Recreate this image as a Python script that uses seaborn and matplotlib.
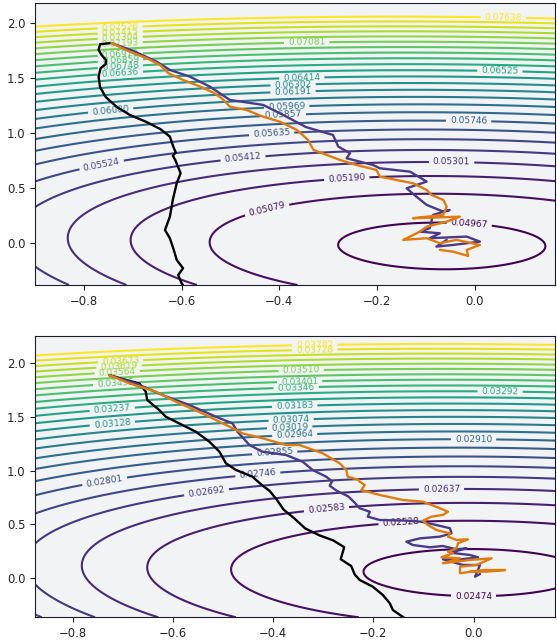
import matplotlib
matplotlib.use("Agg")
import matplotlib.pyplot as plt
import numpy as np
import seaborn as sns

# contour levels (as printed on the labels)
levels_top = [0.04967, 0.05079, 0.05190, 0.05301, 0.05412, 0.05524, 0.05635, 0.05746,
              0.05857, 0.05969, 0.06080, 0.06191, 0.06302, 0.06414, 0.06525, 0.06636,
              0.06748, 0.06859, 0.06970, 0.07081, 0.07193, 0.07304, 0.07415, 0.07526, 0.07638]
levels_bottom = [0.02474, 0.02528, 0.02583, 0.02637, 0.02692, 0.02746, 0.02801, 0.02855,
                 0.02910, 0.02964, 0.03019, 0.03074, 0.03128, 0.03183, 0.03237, 0.03292,
                 0.03346, 0.03401, 0.03455, 0.03510, 0.03564, 0.03619, 0.03673, 0.03728, 0.03782]

# loss surface shape: centre, tilt, bend of the bowl, spacing of levels in bowl units
centre_top = (-0.067, -0.03)
centre_bottom = (0.0, 0.05)
tilt_top, bend_top = 0.06, -0.168
tilt_bottom, bend_bottom = 0.044, -0.159
q_step_top, q_off_top = 0.18, 0.25
q_step_bottom, q_off_bottom = 0.185, 0.26

# trajectories, top panel
top_black_x = [-0.747, -0.767, -0.770, -0.764, -0.755, -0.755, -0.766, -0.770, -0.767, -0.755,
               -0.732, -0.706, -0.671, -0.643, -0.624, -0.617, -0.612, -0.618, -0.613, -0.602,
               -0.610, -0.618, -0.624, -0.634, -0.624, -0.616, -0.610, -0.597, -0.607, -0.600, -0.595]
top_black_y = [1.813, 1.804, 1.752, 1.706, 1.661, 1.625, 1.585, 1.509, 1.413, 1.322,
               1.231, 1.161, 1.095, 1.031, 0.964, 0.873, 0.82, 0.79, 0.752, 0.631,
               0.540, 0.388, 0.236, 0.115, 0.040, -0.066, -0.157, -0.233, -0.294, -0.369, -0.40]
top_orange_x = [-0.743, -0.706, -0.671, -0.644, -0.627, -0.597, -0.562, -0.535, -0.518, -0.501,
                -0.467, -0.433, -0.399, -0.364, -0.341, -0.330, -0.276, -0.242, -0.201, -0.194,
                -0.160, -0.126, -0.098, -0.088, -0.064, -0.057, -0.064, -0.126, -0.030, -0.057,
                -0.098, -0.112, -0.146, -0.098, -0.071, -0.037, 0.011, -0.016, -0.013, -0.044, -0.071]
top_orange_y = [1.813, 1.736, 1.676, 1.615, 1.540, 1.479, 1.418, 1.364, 1.313, 1.236,
                1.206, 1.145, 1.100, 1.025, 0.934, 0.843, 0.752, 0.706, 0.661, 0.600,
                0.570, 0.540, 0.479, 0.434, 0.388, 0.327, 0.252, 0.222, 0.236, 0.191,
                0.145, 0.100, 0.025, 0.040, -0.005, 0.025, -0.021, -0.066, -0.121, -0.082, -0.066]
top_purple_x = [-0.743, -0.700, -0.651, -0.624, -0.583, -0.542, -0.501, -0.433, -0.392, -0.345,
                -0.290, -0.279, -0.255, -0.262, -0.208, -0.194, -0.132, -0.098, -0.139, -0.119,
                -0.098, -0.064, -0.051, -0.085, -0.092, -0.112, -0.071, -0.092, -0.016, 0.011,
                -0.044, -0.078, -0.057]
top_purple_y = [1.813, 1.745, 1.645, 1.570, 1.509, 1.418, 1.297, 1.252, 1.161, 1.050,
                0.979, 0.873, 0.813, 0.767, 0.706, 0.676, 0.645, 0.555, 0.494, 0.418,
                0.343, 0.282, 0.297, 0.252, 0.131, 0.100, 0.085, 0.040, 0.055, 0.009,
                -0.021, -0.036, 0.025]

# trajectories, bottom panel
bottom_black_x = [-0.727, -0.694, -0.667, -0.654, -0.651, -0.627, -0.614, -0.581, -0.554, -0.527,
                  -0.507, -0.494, -0.474, -0.441, -0.421, -0.407, -0.393, -0.379, -0.358, -0.336,
                  -0.308, -0.280, -0.258, -0.265, -0.244, -0.237, -0.227, -0.201, -0.181, -0.167,
                  -0.161, -0.135]
bottom_black_y = [1.890, 1.844, 1.813, 1.735, 1.657, 1.564, 1.502, 1.425, 1.362, 1.269,
                  1.176, 1.068, 1.006, 0.943, 0.860, 0.812, 0.732, 0.637, 0.557, 0.462,
                  0.398, 0.350, 0.287, 0.175, 0.111, 0.032, -0.019, -0.081, -0.158, -0.236,
                  -0.298, -0.382]
bottom_orange_x = [-0.727, -0.687, -0.634, -0.594, -0.541, -0.487, -0.461, -0.421, -0.374, -0.347,
                   -0.301, -0.267, -0.254, -0.251, -0.230, -0.227, -0.217, -0.224, -0.187, -0.141,
                   -0.101, -0.084, -0.067, -0.051, -0.061, -0.084, -0.101, -0.091, -0.074, -0.061,
                   -0.047, -0.051, -0.034, -0.011, -0.031, -0.034, -0.051, -0.041, -0.064, -0.027,
                   -0.061, -0.007, 0.036, 0.006, -0.027, -0.027, 0.019, 0.063, 0.026, -0.007]
bottom_orange_y = [1.890, 1.813, 1.735, 1.642, 1.533, 1.409, 1.347, 1.301, 1.238, 1.238,
                   1.161, 1.068, 1.006, 0.943, 0.915, 0.897, 0.866, 0.819, 0.773, 0.726,
                   0.711, 0.680, 0.649, 0.617, 0.587, 0.571, 0.534, 0.493, 0.447, 0.431,
                   0.416, 0.385, 0.354, 0.360, 0.323, 0.276, 0.245, 0.230, 0.193, 0.183,
                   0.137, 0.168, 0.183, 0.121, 0.105, 0.044, 0.074, 0.074, 0.059, 0.059]
bottom_purple_x = [-0.727, -0.674, -0.621, -0.567, -0.514, -0.481, -0.471, -0.447, -0.421, -0.374,
                   -0.341, -0.321, -0.294, -0.282, -0.287, -0.273, -0.250, -0.237, -0.227, -0.207,
                   -0.211, -0.187, -0.134, -0.104, -0.074, -0.047, -0.044, -0.067, -0.107, -0.134,
                   -0.121, -0.087, -0.061, -0.034, -0.014, -0.047, -0.007, 0.009, -0.034, -0.061,
                   -0.021, 0.013, 0.003, 0.013]
bottom_purple_y = [1.890, 1.813, 1.704, 1.611, 1.502, 1.440, 1.362, 1.238, 1.176, 1.145,
                   1.083, 1.006, 0.943, 0.900, 0.860, 0.812, 0.760, 0.701, 0.649, 0.617,
                   0.571, 0.540, 0.534, 0.524, 0.493, 0.463, 0.416, 0.385, 0.369, 0.338,
                   0.307, 0.286, 0.298, 0.267, 0.276, 0.236, 0.214, 0.193, 0.168, 0.174,
                   0.121, 0.121, 0.012, 0.037]

# where each contour label sits (one per level, same order as the levels)
label_pos_top = [(-0.011, 0.161), (-0.426, 0.32), (-0.262, 0.609), (-0.047, 0.736),
                 (-0.477, 0.895), (-0.767, 0.78), (-0.416, 1.025), (-0.012, 1.122),
                 (-0.392, 1.206), (-0.385, 1.276), (-0.746, 1.236), (-0.372, 1.406),
                 (-0.372, 1.47), (-0.354, 1.545), (0.052, 1.576), (-0.726, 1.576),
                 (-0.726, 1.645), (-0.726, 1.71), (-0.726, 1.76), (-0.344, 1.852),
                 (-0.726, 1.85), (-0.726, 1.89), (-0.726, 1.94), (-0.726, 1.99), (0.059, 2.07)]
label_pos_bottom = [(0.0, -0.175), (-0.145, 0.541), (-0.294, 0.675), (-0.064, 0.853),
                    (-0.534, 0.844), (-0.431, 0.999), (-0.737, 0.928), (-0.397, 1.192),
                    (0.0, 1.291), (-0.357, 1.357), (-0.367, 1.425), (-0.364, 1.487),
                    (-0.721, 1.455), (-0.357, 1.611), (-0.721, 1.580), (0.053, 1.729),
                    (-0.354, 1.781), (-0.347, 1.837), (-0.714, 1.806), (-0.344, 1.937),
                    (-0.711, 1.915), (-0.707, 1.962), (-0.704, 2.008), (-0.317, 2.123), (-0.317, 2.179)]

xlim_top, ylim_top = (-0.9003, 0.1653), (-0.385, 2.176)
xlim_bottom, ylim_bottom = (-0.875, 0.163), (-0.366, 2.254)

sns.set_style("ticks", rc={"axes.facecolor": "#f2f3f5", "axes.edgecolor": "#1c1c2a"})

BLACK, ORANGE, PURPLE = "black", "#e07b0e", "#4a3b88"


def loss_surface(X, Y, centre, tilt, bend, q_step, q_off, levels):
    u = X - centre[0]
    v = Y - centre[1]
    q = u ** 2 * (1 + bend * v) + v ** 2 + tilt * u * v
    step = levels[1] - levels[0]
    return levels[0] + step * (q / q_step - q_off)


def draw_panel(ax, xlim, ylim, centre, tilt, bend, q_step, q_off, levels, label_pos, trajs):
    xs = np.linspace(xlim[0], xlim[1], 400)
    ys = np.linspace(ylim[0], ylim[1], 400)
    X, Y = np.meshgrid(xs, ys)
    Z = loss_surface(X, Y, centre, tilt, bend, q_step, q_off, levels)
    cmap = plt.get_cmap("viridis")
    norm = plt.Normalize(min(levels), max(levels))
    # one contour set per level so every label lands on its own line
    for lev, pos in zip(levels, label_pos):
        cs = ax.contour(X, Y, Z, levels=[lev], colors=[cmap(norm(lev))],
                        linewidths=1.5, zorder=1)
        cs.clabel(manual=[pos], inline=True, fontsize=6.5, fmt="%.5f", inline_spacing=4)
    for (tx, ty), col in trajs:
        sns.lineplot(x=tx, y=ty, sort=False, estimator=None, color=col,
                     linewidth=1.7, ax=ax, zorder=3)
    ax.set_xlim(*xlim)
    ax.set_ylim(*ylim)
    ax.set_xlabel("")
    ax.set_ylabel("")
    ax.tick_params(labelsize=8.4, length=3.5, width=0.8)


fig = plt.figure(figsize=(5.57, 6.41), dpi=100)
ax_top = fig.add_axes([0.0628, 0.5554, 0.934, 0.4395])
ax_bot = fig.add_axes([0.0628, 0.0370, 0.934, 0.4389])

draw_panel(ax_top, xlim_top, ylim_top, centre_top, tilt_top, bend_top,
           q_step_top, q_off_top, levels_top, label_pos_top,
           [((top_black_x, top_black_y), BLACK),
            ((top_purple_x, top_purple_y), PURPLE),
            ((top_orange_x, top_orange_y), ORANGE)])
draw_panel(ax_bot, xlim_bottom, ylim_bottom, centre_bottom, tilt_bottom, bend_bottom,
           q_step_bottom, q_off_bottom, levels_bottom, label_pos_bottom,
           [((bottom_black_x, bottom_black_y), BLACK),
            ((bottom_purple_x, bottom_purple_y), PURPLE),
            ((bottom_orange_x, bottom_orange_y), ORANGE)])

fig.savefig("out.png", dpi=100)
